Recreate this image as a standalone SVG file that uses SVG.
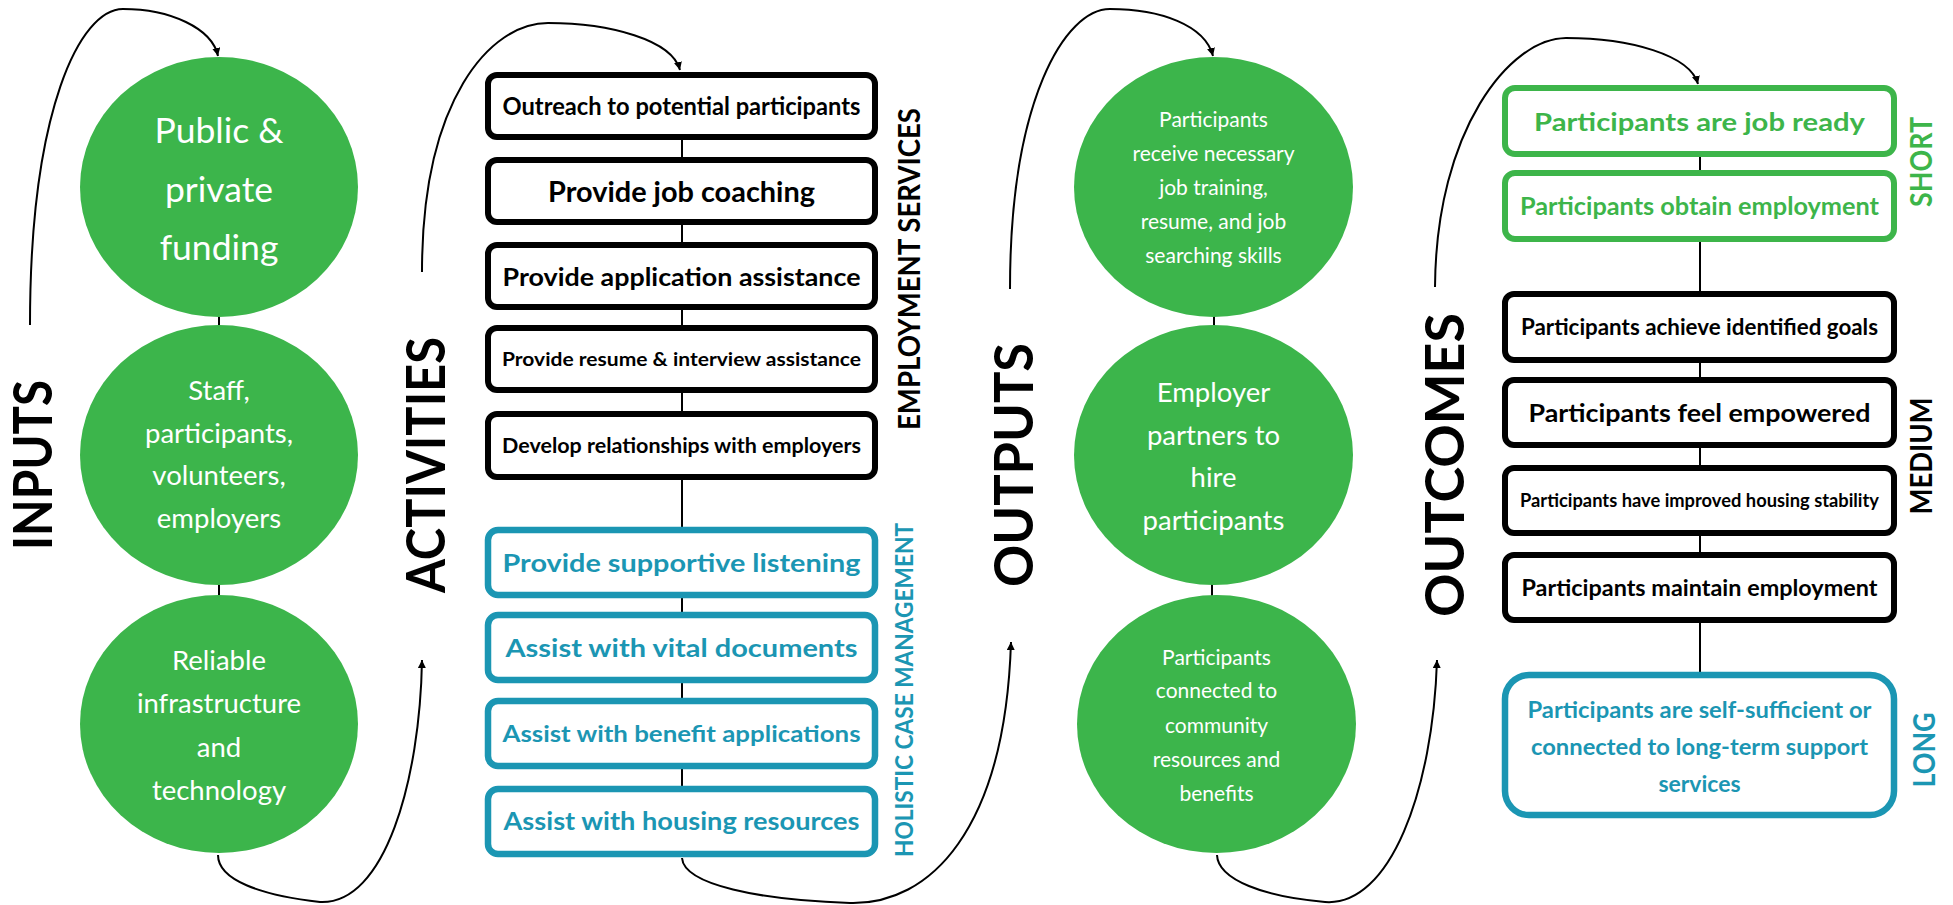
<svg xmlns="http://www.w3.org/2000/svg" width="1953" height="905" viewBox="0 0 1953 905">
<style>
  text { font-family: Lato, "Open Sans", "Liberation Sans", sans-serif; }
  .circ { fill: #3cb54b; }
  .ct { fill: #ffffff; text-anchor: middle; font-weight: 400; }
  .bb { fill: #ffffff; stroke: #000000; stroke-width: 6; }
  .gb { fill: #ffffff; stroke: #3db54a; stroke-width: 6; }
  .lb { fill: #ffffff; stroke: #1b96b3; stroke-width: 6.5; }
  .bt { fill: #000000; font-weight: 700; text-anchor: middle; }
  .gt { fill: #3db54a; font-weight: 700; text-anchor: middle; }
  .lt { fill: #1b96b3; font-weight: 700; text-anchor: middle; }
  .big { fill: #000000; font-weight: 700; font-size: 54px; text-anchor: middle; }
  .side { font-weight: 700; text-anchor: middle; }
  .link { fill: none; stroke: #000000; stroke-width: 2; }
  .curve { fill: none; stroke: #000000; stroke-width: 2; marker-end: url(#arr); }
</style>
<defs>
  <marker id="arr" markerWidth="9" markerHeight="9" refX="8" refY="4" orient="auto" markerUnits="userSpaceOnUse">
    <path d="M0,0 L8,4 L0,8 z" fill="#000000"/>
  </marker>
</defs>
<rect width="1953" height="905" fill="#ffffff"/>

<g id="connectors">
  <line class="link" x1="219" y1="316" x2="219" y2="326"/>
  <line class="link" x1="219" y1="584" x2="219" y2="596"/>
  <line class="link" x1="682" y1="140" x2="682" y2="157"/>
  <line class="link" x1="682" y1="225" x2="682" y2="242"/>
  <line class="link" x1="682" y1="310" x2="682" y2="325"/>
  <line class="link" x1="682" y1="393" x2="682" y2="411"/>
  <line class="link" x1="682" y1="480" x2="682" y2="527"/>
  <line class="link" x1="682" y1="598" x2="682" y2="612"/>
  <line class="link" x1="682" y1="683" x2="682" y2="698"/>
  <line class="link" x1="682" y1="769" x2="682" y2="786"/>
  <line class="link" x1="1214" y1="316" x2="1214" y2="326"/>
  <line class="link" x1="1212" y1="584" x2="1212" y2="596"/>
  <line class="link" x1="1700" y1="157" x2="1700" y2="170"/>
  <line class="link" x1="1700" y1="242" x2="1700" y2="291"/>
  <line class="link" x1="1700" y1="363" x2="1700" y2="377"/>
  <line class="link" x1="1700" y1="448" x2="1700" y2="465"/>
  <line class="link" x1="1700" y1="536" x2="1700" y2="552"/>
  <line class="link" x1="1700" y1="623" x2="1700" y2="672"/>
  <path class="curve" d="M30,325 C30,110 80,9 123,9 C170,9 212,28 218,56"/>
  <path class="curve" d="M422,272 C422,100 490,23 548,23 C610,23 672,40 680,70"/>
  <path class="curve" d="M1010,289 C1010,100 1065,9 1110,9 C1160,9 1205,25 1213,56"/>
  <path class="curve" d="M1435,287 C1436,130 1510,38 1566,38 C1630,38 1690,55 1698,84"/>
  <path class="curve" d="M218,855 C218,880 260,895 320,902 C385,905 420,780 422,660"/>
  <path class="curve" d="M682,858 C684,885 760,900 850,903 C930,905 1005,830 1011,642"/>
  <path class="curve" d="M1217,855 C1218,880 1265,897 1325,902 C1390,907 1433,790 1437,660"/>
</g>

<g id="label-inputs"><text class="big" transform="translate(52,465) rotate(-90)" textLength="170" lengthAdjust="spacingAndGlyphs">INPUTS</text></g>
<g id="label-activities"><text class="big" transform="translate(445,465) rotate(-90)" textLength="256" lengthAdjust="spacingAndGlyphs">ACTIVITIES</text></g>
<g id="label-outputs"><text class="big" transform="translate(1033,465) rotate(-90)" textLength="244" lengthAdjust="spacingAndGlyphs">OUTPUTS</text></g>
<g id="label-outcomes"><text class="big" transform="translate(1464,465) rotate(-90)" textLength="304" lengthAdjust="spacingAndGlyphs">OUTCOMES</text></g>

<g id="label-employment"><text class="side" fill="#000000" font-size="31" transform="translate(920,269) rotate(-90)" textLength="322" lengthAdjust="spacingAndGlyphs">EMPLOYMENT SERVICES</text></g>
<g id="label-holistic"><text class="side" fill="#1b96b3" font-size="25" transform="translate(913,690) rotate(-90)" textLength="334" lengthAdjust="spacingAndGlyphs">HOLISTIC CASE MANAGEMENT</text></g>
<g id="label-short"><text class="side" fill="#3db54a" font-size="30" transform="translate(1932,162) rotate(-90)" textLength="90" lengthAdjust="spacingAndGlyphs">SHORT</text></g>
<g id="label-medium"><text class="side" fill="#000000" font-size="30" transform="translate(1932,456) rotate(-90)" textLength="117" lengthAdjust="spacingAndGlyphs">MEDIUM</text></g>
<g id="label-long"><text class="side" fill="#1b96b3" font-size="30" transform="translate(1935,750) rotate(-90)" textLength="75" lengthAdjust="spacingAndGlyphs">LONG</text></g>

<g id="input-funding">
  <ellipse class="circ" cx="219" cy="187" rx="139" ry="130"/>
  <text class="ct" font-size="35.5"><tspan x="219" y="143">Public &amp;</tspan><tspan x="219" y="202">private</tspan><tspan x="219" y="260">funding</tspan></text>
</g>
<g id="input-staff">
  <ellipse class="circ" cx="219" cy="455" rx="139" ry="130"/>
  <text class="ct" font-size="27.5"><tspan x="219" y="400">Staff,</tspan><tspan x="219" y="443">participants,</tspan><tspan x="219" y="485">volunteers,</tspan><tspan x="219" y="528">employers</tspan></text>
</g>
<g id="input-infrastructure">
  <ellipse class="circ" cx="219" cy="724" rx="139" ry="129"/>
  <text class="ct" font-size="27.5"><tspan x="219" y="670">Reliable</tspan><tspan x="219" y="713">infrastructure</tspan><tspan x="219" y="757">and</tspan><tspan x="219" y="800">technology</tspan></text>
</g>

<g id="act-outreach"><rect class="bb" x="488" y="75" width="387" height="62" rx="9"/><text class="bt" x="681.5" y="115" font-size="24" textLength="358" lengthAdjust="spacingAndGlyphs">Outreach to potential participants</text></g>
<g id="act-coaching"><rect class="bb" x="488" y="160" width="387" height="62" rx="9"/><text class="bt" x="681.5" y="202" font-size="28" textLength="267" lengthAdjust="spacingAndGlyphs">Provide job coaching</text></g>
<g id="act-application"><rect class="bb" x="488" y="245" width="387" height="62" rx="9"/><text class="bt" x="681.5" y="286" font-size="25.5" textLength="358" lengthAdjust="spacingAndGlyphs">Provide application assistance</text></g>
<g id="act-resume"><rect class="bb" x="488" y="328" width="387" height="62" rx="9"/><text class="bt" x="681.5" y="366" font-size="19.5" textLength="359" lengthAdjust="spacingAndGlyphs">Provide resume &amp; interview assistance</text></g>
<g id="act-relationships"><rect class="bb" x="488" y="414" width="387" height="63" rx="9"/><text class="bt" x="681.5" y="453" font-size="21" textLength="359" lengthAdjust="spacingAndGlyphs">Develop relationships with employers</text></g>
<g id="act-listening"><rect class="lb" x="488" y="530" width="387" height="65" rx="10"/><text class="lt" x="681.5" y="572" font-size="25" textLength="358" lengthAdjust="spacingAndGlyphs">Provide supportive listening</text></g>
<g id="act-documents"><rect class="lb" x="488" y="615" width="387" height="65" rx="10"/><text class="lt" x="681.5" y="657" font-size="25.5" textLength="352" lengthAdjust="spacingAndGlyphs">Assist with vital documents</text></g>
<g id="act-benefits"><rect class="lb" x="488" y="701" width="387" height="65" rx="10"/><text class="lt" x="681.5" y="742" font-size="23.3" textLength="358" lengthAdjust="spacingAndGlyphs">Assist with benefit applications</text></g>
<g id="act-housing"><rect class="lb" x="488" y="789" width="387" height="65" rx="10"/><text class="lt" x="681.5" y="830" font-size="24" textLength="356" lengthAdjust="spacingAndGlyphs">Assist with housing resources</text></g>

<g id="out-training">
  <ellipse class="circ" cx="1213.5" cy="187" rx="139.5" ry="130"/>
  <text class="ct" font-size="21"><tspan x="1213.5" y="127">Participants</tspan><tspan x="1213.5" y="161">receive necessary</tspan><tspan x="1213.5" y="195">job training,</tspan><tspan x="1213.5" y="229">resume, and job</tspan><tspan x="1213.5" y="263">searching skills</tspan></text>
</g>
<g id="out-employers">
  <ellipse class="circ" cx="1213.5" cy="455" rx="139.5" ry="130"/>
  <text class="ct" font-size="27.5"><tspan x="1213.5" y="402">Employer</tspan><tspan x="1213.5" y="445">partners to</tspan><tspan x="1213.5" y="487">hire</tspan><tspan x="1213.5" y="530">participants</tspan></text>
</g>
<g id="out-community">
  <ellipse class="circ" cx="1216.5" cy="724" rx="139.5" ry="129"/>
  <text class="ct" font-size="21"><tspan x="1216.5" y="665">Participants</tspan><tspan x="1216.5" y="698">connected to</tspan><tspan x="1216.5" y="733">community</tspan><tspan x="1216.5" y="767">resources and</tspan><tspan x="1216.5" y="801">benefits</tspan></text>
</g>

<g id="oc-jobready"><rect class="gb" x="1505" y="88" width="389" height="66" rx="10"/><text class="gt" x="1699.5" y="131" font-size="25.5" textLength="331" lengthAdjust="spacingAndGlyphs">Participants are job ready</text></g>
<g id="oc-obtain"><rect class="gb" x="1505" y="173" width="389" height="66" rx="10"/><text class="gt" x="1699.5" y="215" font-size="24" textLength="359" lengthAdjust="spacingAndGlyphs">Participants obtain employment</text></g>
<g id="oc-goals"><rect class="bb" x="1505" y="294" width="389" height="66" rx="9"/><text class="bt" x="1699.5" y="335" font-size="22" textLength="357" lengthAdjust="spacingAndGlyphs">Participants achieve identified goals</text></g>
<g id="oc-empowered"><rect class="bb" x="1505" y="380" width="389" height="65" rx="9"/><text class="bt" x="1699.5" y="422" font-size="24" textLength="342" lengthAdjust="spacingAndGlyphs">Participants feel empowered</text></g>
<g id="oc-housing"><rect class="bb" x="1505" y="468" width="389" height="65" rx="9"/><text class="bt" x="1699.5" y="507" font-size="18.6" textLength="359" lengthAdjust="spacingAndGlyphs">Participants have improved housing stability</text></g>
<g id="oc-maintain"><rect class="bb" x="1505" y="555" width="389" height="65" rx="9"/><text class="bt" x="1699.5" y="596" font-size="23" textLength="356" lengthAdjust="spacingAndGlyphs">Participants maintain employment</text></g>
<g id="oc-selfsufficient"><rect class="lb" x="1505" y="675" width="389" height="140" rx="24"/>
  <text class="lt" font-size="23"><tspan x="1699.5" y="718" textLength="344" lengthAdjust="spacingAndGlyphs">Participants are self-sufficient or</tspan><tspan x="1699.5" y="755" textLength="337" lengthAdjust="spacingAndGlyphs">connected to long-term support</tspan><tspan x="1699.5" y="792">services</tspan></text>
</g>
</svg>
